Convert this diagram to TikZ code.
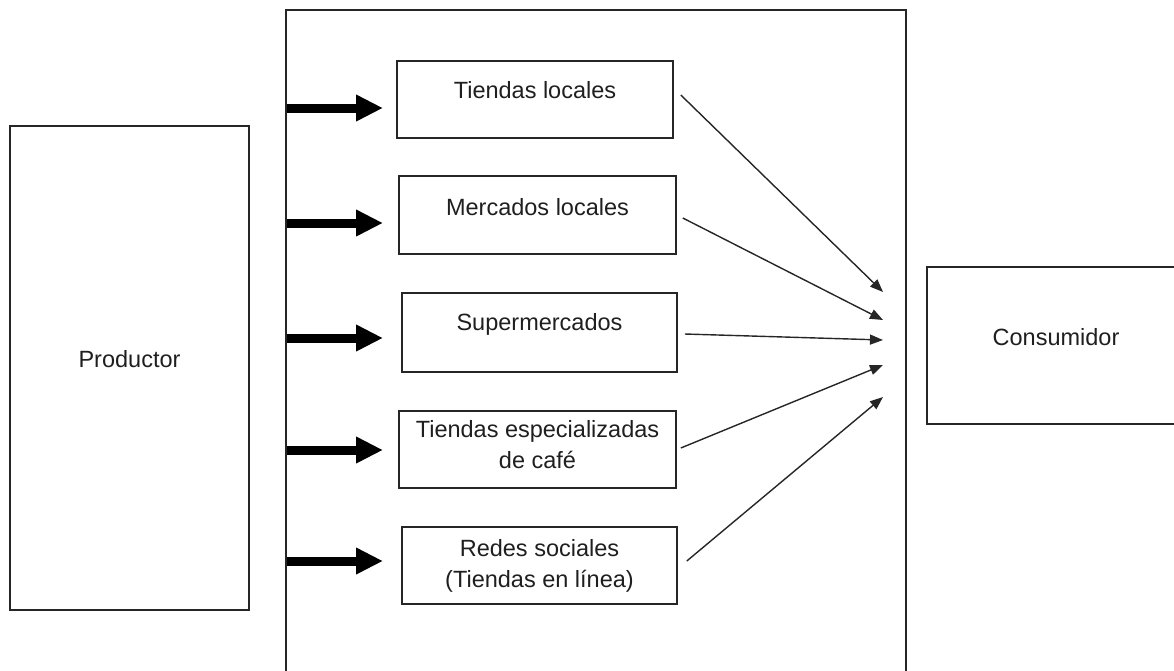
\documentclass[tikz,border=0pt]{standalone}
\usepackage{fontspec}
\setmainfont{Liberation Sans}
\usetikzlibrary{arrows.meta}
\tikzset{
  boxline/.style={draw=black!85, line width=1.6pt, rectangle, inner sep=0pt},
  txt/.style={font=\fontsize{23.5}{31}\selectfont, text=black!88, inner sep=0pt, align=center, anchor=base},
  thickarrow/.style={line width=9pt, -{Triangle[length=27pt,width=25pt]}, black},
  thinarrow/.style={line width=1.4pt, draw=black!85, -{Triangle[length=13pt,width=10pt]}},
}
\begin{document}
\begin{tikzpicture}[x=1pt,y=-1pt]
\useasboundingbox (0,0) rectangle (1174,670);
% big frame
\draw[black!85, line width=1.6pt] (286,700) -- (286,10) -- (906,10) -- (906,700);
% producer
\node[boxline, minimum width=239pt, minimum height=484pt] (prod) at (129.5,368) {};
\node[txt] (prodt) at (129.5,367) {Productor};
% consumer
\node[boxline, minimum width=263pt, minimum height=157pt] (cons) at (1058.5,345.5) {};
\node[txt] (const) at (1056,345) {Consumidor};
% channels
\node[boxline, minimum width=276pt, minimum height=77pt] (c1) at (535,99.5) {};
\node[boxline, minimum width=277pt, minimum height=78pt] (c2) at (537.5,215) {};
\node[boxline, minimum width=275pt, minimum height=79pt] (c3) at (539.5,332.5) {};
\node[boxline, minimum width=277pt, minimum height=77pt] (c4) at (537.5,449.5) {};
\node[boxline, minimum width=275pt, minimum height=77pt] (c5) at (539.5,565.5) {};
\node[txt] (c1t) at (535,98) {Tiendas locales};
\node[txt] (c2t) at (537.5,215) {Mercados locales};
\node[txt] (c3t) at (539.5,330) {Supermercados};
\node[txt] (c4t) at (537.5,468) {Tiendas especializadas\\de café};
\node[txt] (c5t) at (539.5,587) {Redes sociales\\(Tiendas en línea)};
% thick arrows
\foreach \i/\y in {1/108,2/223,3/338,4/450,5/561}{
  \coordinate (p\i) at (287,\y);
  \coordinate (q\i) at (383,\y);
  \draw[thickarrow] (p\i) -- (q\i);
}
% thin arrow targets
\coordinate (t1) at (883,292);
\coordinate (t2) at (883,320);
\coordinate (t3) at (883,340);
\coordinate (t4) at (883,365);
\coordinate (t5) at (883,397);
\draw[thinarrow] ([xshift=7pt,yshift=4.5pt]c1.east) -- (t1);
\draw[thinarrow] ([xshift=6pt,yshift=-3pt]c2.east) -- (t2);
\draw[thinarrow] ([xshift=7pt,yshift=-1.5pt]c3.east) -- (t3);
\draw[thinarrow] ([xshift=4pt,yshift=1.5pt]c4.east) -- (t4);
\draw[thinarrow] ([xshift=9pt,yshift=4.5pt]c5.east) -- (t5);
\end{tikzpicture}
\end{document}
